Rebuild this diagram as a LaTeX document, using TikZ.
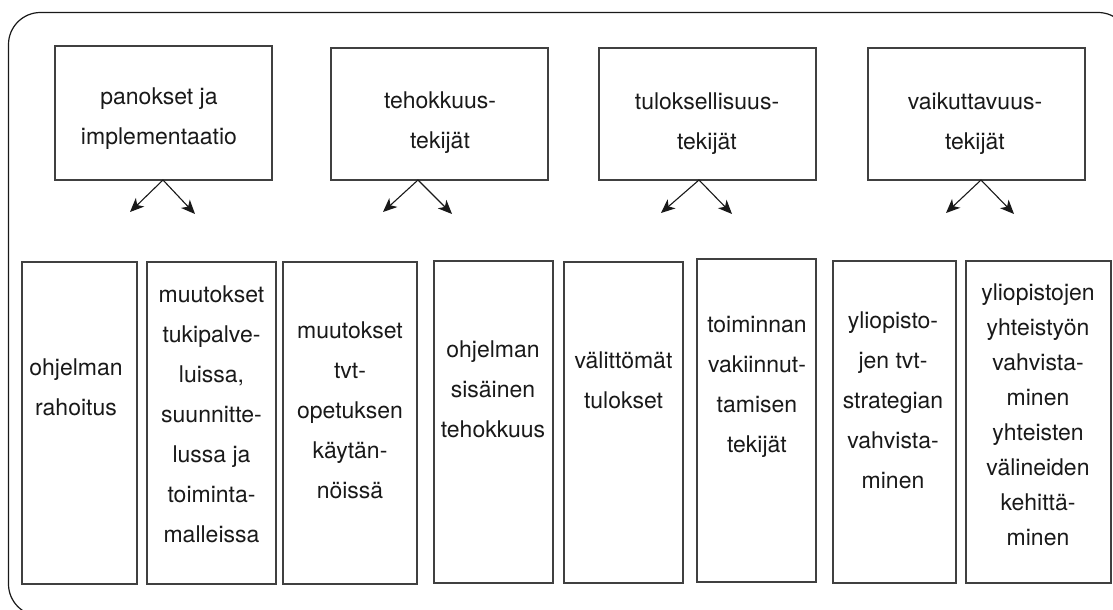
\documentclass[tikz,border=0pt]{standalone}
\usepackage{fontspec}
\setmainfont{TeX Gyre Heros}
\usetikzlibrary{arrows.meta}
\newcommand\fl{\rule{0pt}{20pt}}
\newcommand\bx[5]{\node[box, minimum width={#4-#2}, minimum height={#5-#3}] (#1) at ({(#2+#4)/2},{(#3+#5)/2}) {};}
\begin{document}
\begin{tikzpicture}[x=1pt,y=-1pt,
  frame/.style={draw=black!90, line width=1.2pt, rounded corners=32pt},
  box/.style={draw=black!75, line width=1.3pt, inner sep=0pt},
  lbl/.style={inner sep=0pt, anchor=north, align=center, text=black!90,
    font=\fontsize{23}{40}\selectfont},
  lbltight/.style={lbl, font=\fontsize{23}{35}\selectfont},
  arr/.style={draw=black!90, line width=1.1pt, -{Stealth[length=14pt,width=12pt,inset=4pt]}}]
\useasboundingbox (0,0) rectangle (1113,610);
\clip (0,0) rectangle (1113,610);
\draw[frame] (8.5,12.5) rectangle (1130,616);
% top boxes
\bx{t1}{55}{46}{272}{180}
\bx{t2}{331}{48}{548}{180}
\bx{t3}{599}{48}{816}{180}
\bx{t4}{868}{48}{1085}{180}
\node[lbl] (t1x) at (159,84) {\fl panokset ja\\implementaatio};
\node[lbl] (t2x) at (440,88) {\fl tehokkuus-\\tekijät};
\node[lbl] (t3x) at (707,89) {\fl tuloksellisuus-\\tekijät};
\node[lbl] (t4x) at (975,89) {\fl vaikuttavuus-\\tekijät};
% arrows
\coordinate (a1) at (163,180); \coordinate (a1l) at (130,212); \coordinate (a1r) at (195,214);
\coordinate (a2) at (418,180); \coordinate (a2l) at (383,212); \coordinate (a2r) at (452,214);
\coordinate (a3) at (699,180); \coordinate (a3l) at (661,213); \coordinate (a3r) at (732,214);
\coordinate (a4) at (981,180); \coordinate (a4l) at (946,213); \coordinate (a4r) at (1014,214);
\foreach \i in {1,2,3,4}{
  \draw[arr] (a\i) -- (a\i l);
  \draw[arr] (a\i) -- (a\i r);
}
% bottom boxes
\bx{b1}{22}{262}{137}{584}
\bx{b2}{147}{262}{276}{584}
\bx{b3}{283}{262}{417}{584}
\bx{b4}{434}{261}{553}{583}
\bx{b5}{564}{262}{683}{583}
\bx{b6}{697}{259}{816}{582}
\bx{b7}{833}{261}{956}{583}
\bx{b8}{966}{261}{1111}{583}
\node[lbl] (b1x) at (76,355) {\fl ohjelman\\rahoitus};
\node[lbl] (b2x) at (211.5,282) {\fl muutokset\\tukipalve-\\luissa,\\suunnitte-\\lussa ja\\toiminta-\\malleissa};
\node[lbl] (b3x) at (350,318) {\fl muutokset\\tvt-\\opetuksen\\käytän-\\nöissä};
\node[lbl] (b4x) at (493,337) {\fl ohjelman\\sisäinen\\tehokkuus};
\node[lbl] (b5x) at (623.5,348) {\fl välittömät\\tulokset};
\node[lbl] (b6x) at (757,312) {\fl toiminnan\\vakiinnut-\\tamisen\\tekijät};
\node[lbl] (b7x) at (893,308) {\fl yliopisto-\\jen tvt-\\strategian\\vahvista-\\minen};
\node[lbltight] (b8x) at (1038,280) {\fl yliopistojen\\yhteistyön\\vahvista-\\minen\\yhteisten\\välineiden\\kehittä-\\minen};
\end{tikzpicture}
\end{document}
